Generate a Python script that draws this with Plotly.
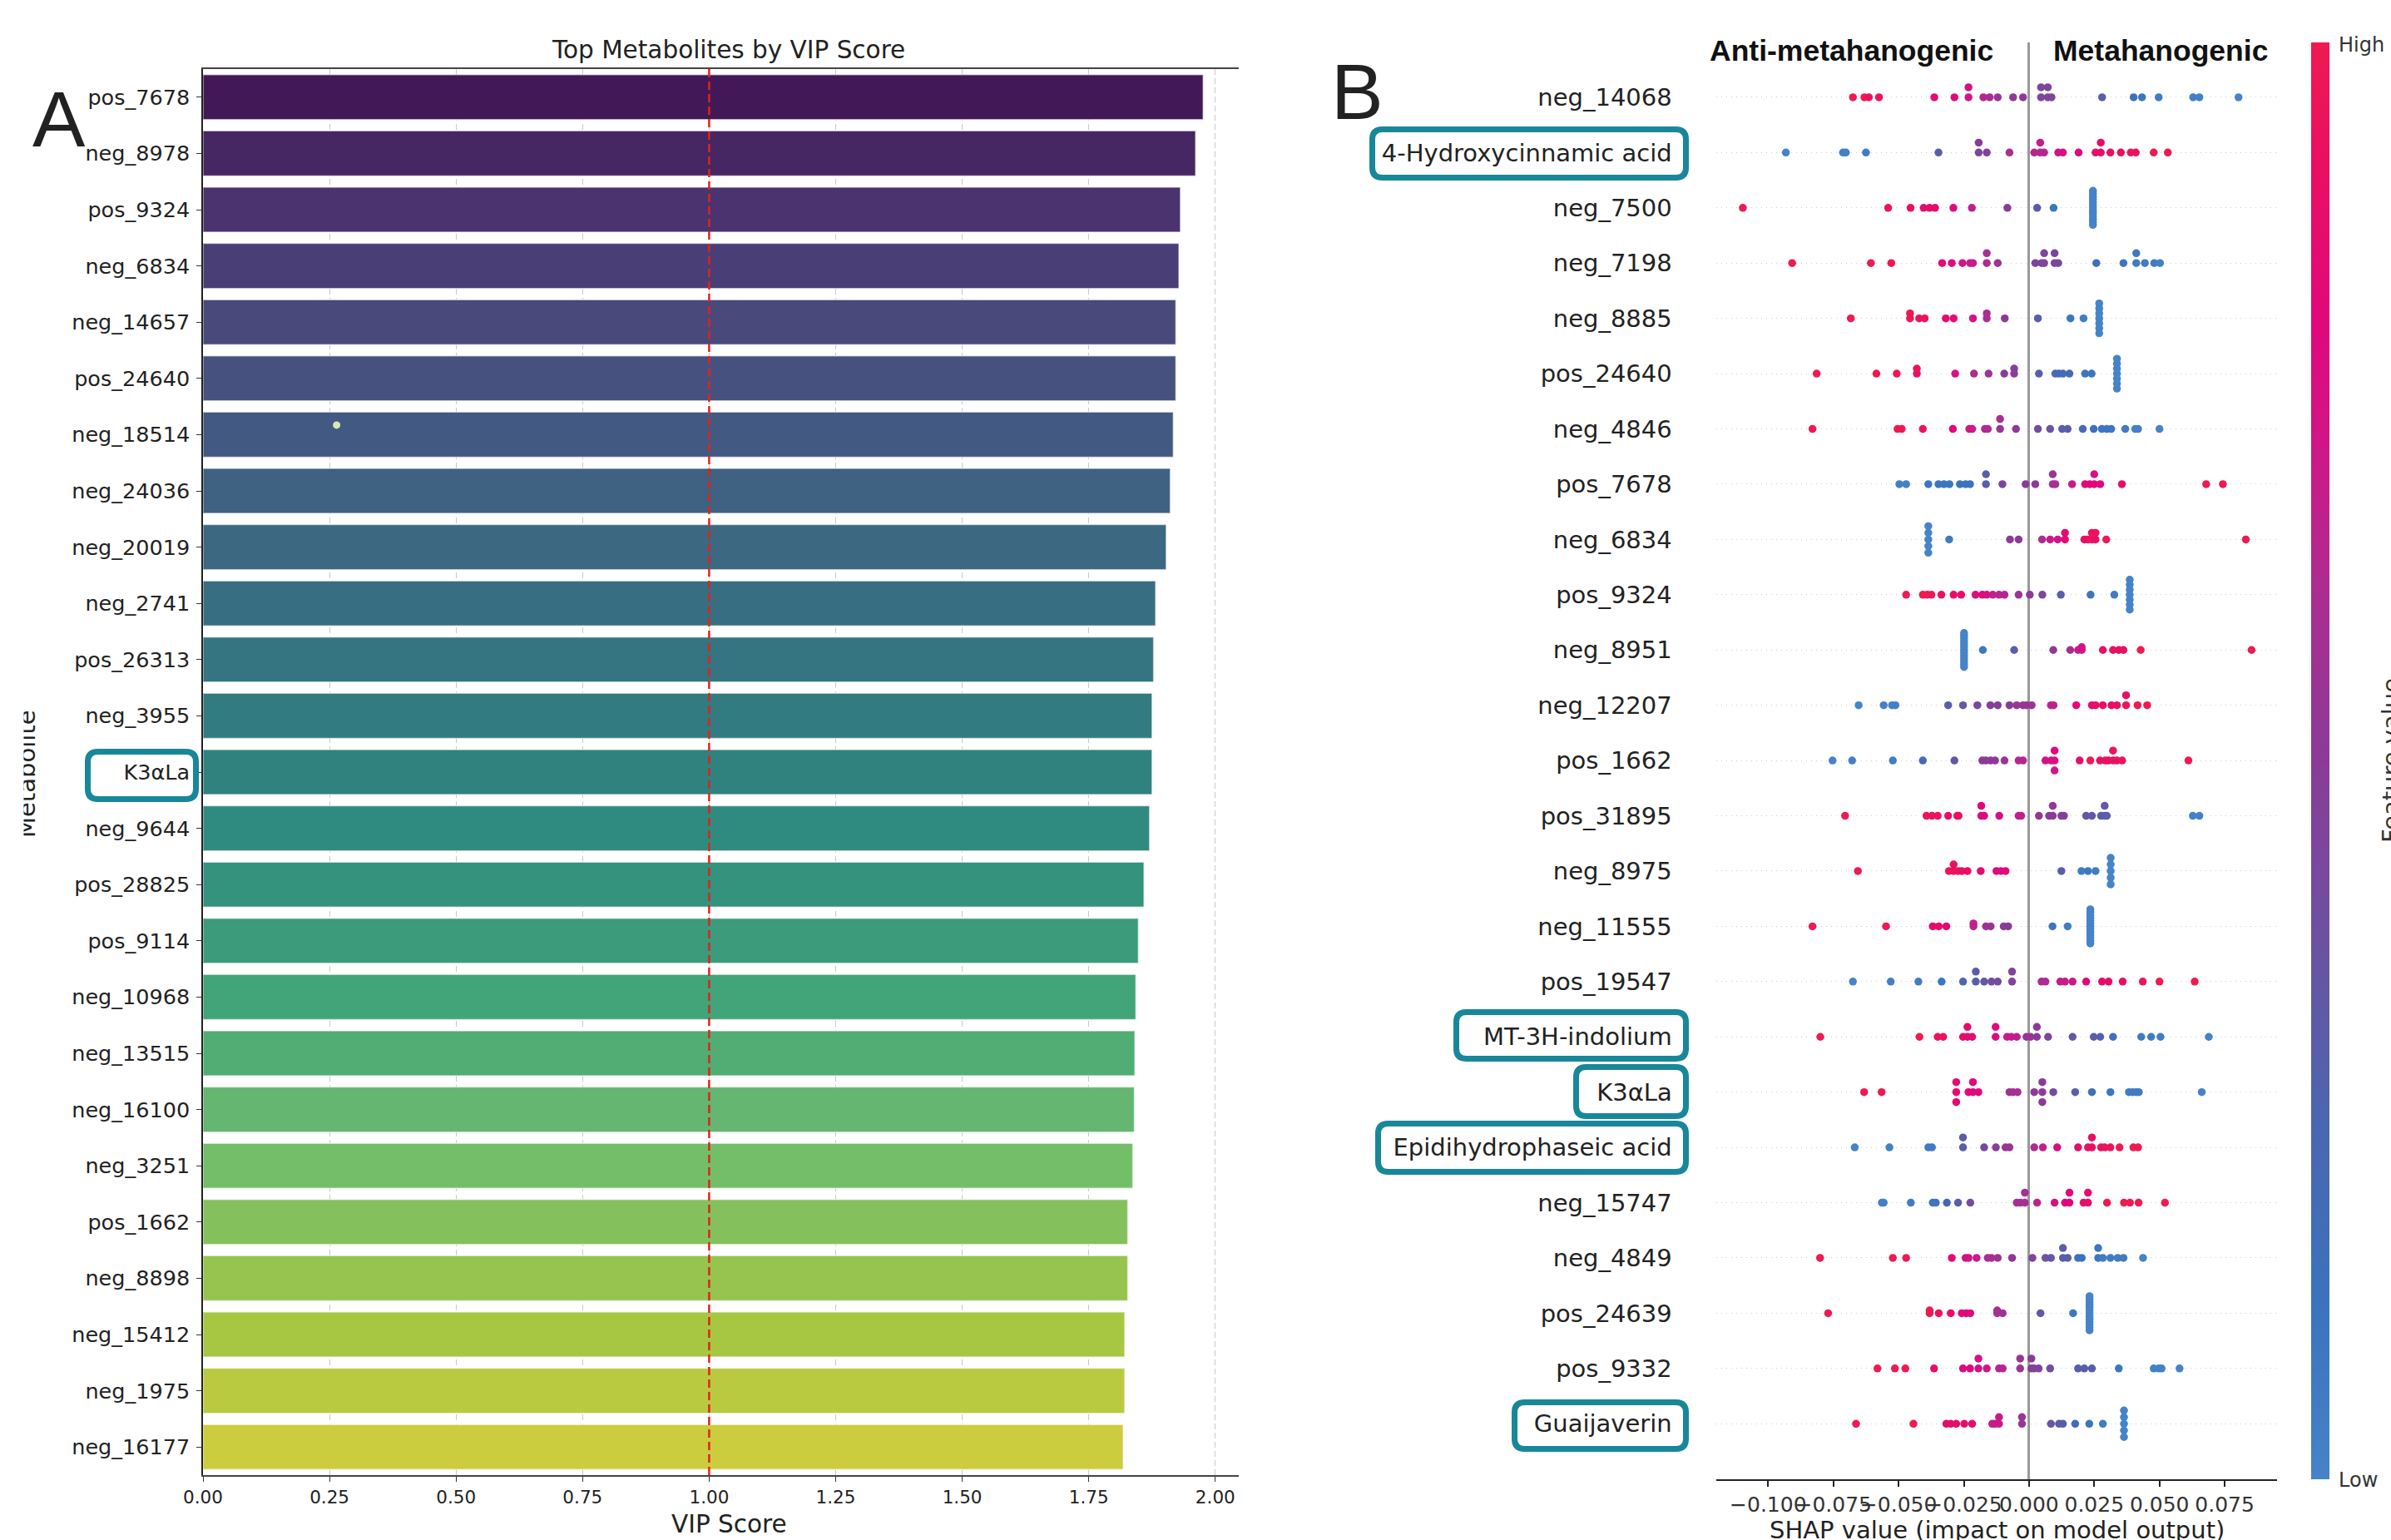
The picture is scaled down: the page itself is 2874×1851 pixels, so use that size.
import colorsys
import numpy as np
import plotly.graph_objects as go
from plotly.colors import sample_colorscale, unlabel_rgb
import plotly.colors as pc

W, H = 2874, 1851

# ---------------- Panel A data ----------------
vip_metabolites = ["pos_7678", "neg_8978", "pos_9324", "neg_6834", "neg_14657", "pos_24640",
                   "neg_18514", "neg_24036", "neg_20019", "neg_2741", "pos_26313", "neg_3955",
                   "K3αLa", "neg_9644", "pos_28825", "pos_9114", "neg_10968", "neg_13515",
                   "neg_16100", "neg_3251", "pos_1662", "neg_8898", "neg_15412", "neg_1975",
                   "neg_16177"]
vip_scores = [1.976, 1.961, 1.931, 1.928, 1.922, 1.922, 1.917, 1.911, 1.903, 1.882, 1.878, 1.875,
              1.875, 1.870, 1.859, 1.848, 1.843, 1.841, 1.840, 1.837, 1.827, 1.827, 1.821, 1.821,
              1.818]
vip_threshold = 1.0
vip_ticks = [0.0, 0.25, 0.5, 0.75, 1.0, 1.25, 1.5, 1.75, 2.0]
stray_point_x = [0.264]
stray_point_y = [5.83]

# ---------------- Panel B data (top to bottom) ----------------
shap_features = ["neg_14068", "4-Hydroxycinnamic acid", "neg_7500", "neg_7198", "neg_8885",
                 "pos_24640", "neg_4846", "pos_7678", "neg_6834", "pos_9324", "neg_8951",
                 "neg_12207", "pos_1662", "pos_31895", "neg_8975", "neg_11555", "pos_19547",
                 "MT-3H-indolium", "K3αLa", "Epidihydrophaseic acid", "neg_15747", "neg_4849",
                 "pos_24639", "pos_9332", "Guaijaverin"]
shap_ticks = [-0.1, -0.075, -0.05, -0.025, 0.0, 0.025, 0.05, 0.075]
shap_ticktext = ["−0.100", "−0.075", "−0.050", "−0.025", "0.000", "0.025", "0.050", "0.075"]

sv_neg_14068 = [-0.0675, -0.0631, -0.0614, -0.0575, -0.0363, -0.0286, -0.0232, -0.0232, -0.0175, -0.0151,
                -0.012, -0.0061, -0.0023, 0.0046, 0.0046, 0.0072, 0.0072, 0.0086, 0.028, 0.0401,
                0.0433, 0.0497, 0.0629, 0.0653, 0.0803]
fv_neg_14068 = [1.0, 1.0, 0.95, 0.95, 0.85, 0.78, 0.72, 0.75, 0.65, 0.6,
                0.55, 0.52, 0.5, 0.45, 0.45, 0.45, 0.45, 0.45, 0.3, 0.12,
                0.1, 0.05, 0.02, 0.02, 0.0]
sv_hydroxycinnamic = [-0.0932, -0.0713, -0.0702, -0.0625, -0.0347, -0.0193, -0.0193, -0.0162, -0.0075, 0.002,
                      0.0043, 0.0043, 0.0058, 0.0112, 0.013, 0.019, 0.0255, 0.0275, 0.0275, 0.0312,
                      0.0352, 0.039, 0.0409, 0.0478, 0.0532]
fv_hydroxycinnamic = [0.0, 0.02, 0.02, 0.05, 0.3, 0.45, 0.5, 0.45, 0.6, 0.65,
                      0.65, 0.7, 0.65, 0.75, 0.75, 0.8, 0.9, 0.9, 0.9, 0.9,
                      0.92, 0.95, 0.95, 1.0, 1.0]
sv_neg_7500 = [-0.1097, -0.054, -0.0454, -0.0404, -0.0381, -0.036, -0.029, -0.0219, -0.0083, 0.0031, 0.0094,
               0.0245, 0.0245, 0.0245, 0.0245, 0.0245, 0.0245, 0.0245, 0.0245, 0.0245, 0.0245, 0.0245,
               0.0245, 0.0245]
fv_neg_7500 = [1.0, 0.95, 0.92, 0.88, 0.88, 0.88, 0.78, 0.68, 0.5, 0.3, 0.1,
               0.0, 0.0, 0.0, 0.0, 0.0, 0.0, 0.0, 0.0, 0.0, 0.0, 0.0, 0.0, 0.0]
sv_neg_7198 = [-0.0908, -0.0606, -0.0528, -0.0333, -0.0296, -0.0255, -0.0226, -0.0215, -0.0162, -0.0162,
               -0.012, 0.0024, 0.0048, 0.0058, 0.0058, 0.0098, 0.0098, 0.0112, 0.0258, 0.0362,
               0.0411, 0.0411, 0.0444, 0.048, 0.0502]
fv_neg_7198 = [1.0, 1.0, 0.98, 0.85, 0.8, 0.72, 0.7, 0.7, 0.6, 0.6,
               0.55, 0.45, 0.45, 0.45, 0.45, 0.42, 0.45, 0.42, 0.15, 0.1,
               0.05, 0.08, 0.05, 0.05, 0.02]
sv_neg_8885 = [-0.0683, -0.0456, -0.0456, -0.0421, -0.04, -0.0319, -0.0289, -0.0215, -0.0162, -0.0162,
               -0.0093, 0.0034, 0.0159, 0.0209, 0.0269, 0.0269, 0.0269, 0.0269, 0.0269, 0.0269, 0.0269]
fv_neg_8885 = [1.0, 1.0, 0.98, 0.95, 0.95, 0.85, 0.85, 0.75, 0.6, 0.62,
               0.5, 0.3, 0.1, 0.05, 0.0, 0.0, 0.0, 0.0, 0.0, 0.0, 0.0]
sv_pos_24640 = [-0.0814, -0.0585, -0.0507, -0.043, -0.043, -0.0283, -0.0211, -0.0155, -0.0095, -0.0057,
                -0.0057, 0.0038, 0.0101, 0.0115, 0.013, 0.0155, 0.0215, 0.024,
                0.0337, 0.0337, 0.0337, 0.0337, 0.0337, 0.0337, 0.0337]
fv_pos_24640 = [1.0, 1.0, 0.98, 0.9, 0.95, 0.75, 0.62, 0.55, 0.5, 0.5,
                0.48, 0.3, 0.2, 0.2, 0.2, 0.2, 0.1, 0.1,
                0.0, 0.0, 0.0, 0.0, 0.0, 0.0, 0.0]
sv_neg_4846 = [-0.083, -0.0504, -0.0488, -0.0407, -0.0292, -0.0229, -0.0218, -0.0169, -0.0158, -0.0111,
               -0.0111, -0.005, 0.0034, 0.0081, 0.0127, 0.0148, 0.0206, 0.0248, 0.0279, 0.0298,
               0.0315, 0.0369, 0.0407, 0.0418, 0.05]
fv_neg_4846 = [1.0, 1.0, 0.98, 0.95, 0.8, 0.72, 0.72, 0.65, 0.62, 0.55,
               0.6, 0.5, 0.4, 0.35, 0.3, 0.3, 0.2, 0.15, 0.1, 0.1,
               0.1, 0.05, 0.02, 0.02, 0.0]
sv_pos_7678 = [-0.0497, -0.0471, -0.0386, -0.0347, -0.0326, -0.0305, -0.0265, -0.0243, -0.0226, -0.0165,
               -0.0165, -0.0102, -0.0013, 0.0024, 0.0091, 0.0091, 0.0101, 0.0165, 0.0215, 0.0233,
               0.025, 0.025, 0.0273, 0.0356, 0.0679, 0.0743]
fv_pos_7678 = [0.02, 0.02, 0.1, 0.1, 0.1, 0.1, 0.12, 0.12, 0.12, 0.3,
               0.3, 0.45, 0.5, 0.5, 0.6, 0.55, 0.6, 0.7, 0.8, 0.8,
               0.8, 0.75, 0.8, 0.9, 1.0, 1.0]
sv_neg_6834 = [-0.0386, -0.0386, -0.0386, -0.0386, -0.0386, -0.0306, -0.0073, -0.004, 0.005, 0.0081,
               0.011, 0.0138, 0.0138, 0.0212, 0.0226, 0.0241, 0.0241, 0.0255, 0.0255, 0.0296, 0.0831]
fv_neg_6834 = [0.0, 0.0, 0.0, 0.0, 0.0, 0.05, 0.5, 0.5, 0.62, 0.7,
               0.72, 0.85, 0.85, 0.92, 0.92, 0.95, 0.95, 0.92, 0.95, 1.0, 1.0]
sv_pos_9324 = [-0.0471, -0.0407, -0.039, -0.0374, -0.0336, -0.0289, -0.026, -0.0205, -0.0179, -0.0162,
               -0.0139, -0.0115, -0.0094, -0.004, 0.0003, 0.0051, 0.0122, 0.0236, 0.0327,
               0.0386, 0.0386, 0.0386, 0.0386, 0.0386, 0.0386, 0.0386]
fv_pos_9324 = [1.0, 1.0, 1.0, 0.98, 0.92, 0.9, 0.88, 0.78, 0.78, 0.75,
               0.68, 0.65, 0.65, 0.55, 0.5, 0.45, 0.3, 0.1, 0.05,
               0.0, 0.0, 0.0, 0.0, 0.0, 0.0, 0.0]
sv_neg_8951 = [-0.0249, -0.0249, -0.0249, -0.0249, -0.0249, -0.0249, -0.0249, -0.0249, -0.0249, -0.0249,
               -0.0249, -0.0249, -0.0249, -0.0177, -0.0057, 0.0093, 0.0158, 0.0188, 0.0202, 0.0202,
               0.0283, 0.0322, 0.0344, 0.0362, 0.0428, 0.0853]
fv_neg_8951 = [0.0, 0.0, 0.0, 0.0, 0.0, 0.0, 0.0, 0.0, 0.0, 0.0,
               0.0, 0.0, 0.0, 0.08, 0.3, 0.52, 0.6, 0.7, 0.72, 0.75,
               0.9, 0.92, 0.92, 0.92, 1.0, 1.0]
sv_neg_12207 = [-0.0653, -0.0557, -0.0525, -0.0512, -0.031, -0.0253, -0.0198, -0.0148, -0.012, -0.0075,
                -0.0047, -0.0023, -0.0009, 0.001, 0.0084, 0.0094, 0.0181, 0.0241, 0.0255, 0.0283,
                0.0316, 0.0337, 0.0372, 0.0372, 0.0416, 0.0453]
fv_neg_12207 = [0.0, 0.02, 0.02, 0.02, 0.3, 0.35, 0.42, 0.48, 0.48, 0.5,
                0.52, 0.55, 0.55, 0.55, 0.65, 0.65, 0.8, 0.88, 0.88, 0.9,
                0.9, 0.92, 0.95, 0.92, 1.0, 1.0]
sv_pos_1662 = [-0.0753, -0.0678, -0.0522, -0.0407, -0.0286, -0.0179, -0.0165, -0.0147, -0.013, -0.0094,
               -0.004, -0.0023, 0.0063, 0.0085, 0.0098, 0.0098, 0.0098, 0.0194, 0.0235, 0.0272,
               0.0293, 0.0305, 0.0322, 0.0322, 0.0337, 0.0357, 0.0611]
fv_pos_1662 = [0.0, 0.02, 0.05, 0.2, 0.35, 0.5, 0.5, 0.5, 0.5, 0.55,
               0.65, 0.65, 0.75, 0.75, 0.75, 0.8, 0.72, 0.9, 1.0, 0.92,
               0.92, 0.92, 0.95, 0.95, 0.92, 0.95, 1.0]
sv_pos_31895 = [-0.0705, -0.0393, -0.0372, -0.035, -0.031, -0.0275, -0.027, -0.0183, -0.0183, -0.0172,
                -0.0114, -0.004, -0.003, 0.0038, 0.0077, 0.0091, 0.0091, 0.0124, 0.0134, 0.0219,
                0.0241, 0.0276, 0.029, 0.029, 0.0298, 0.0628, 0.0653]
fv_pos_31895 = [1.0, 0.95, 0.95, 0.95, 0.9, 0.92, 0.92, 0.78, 0.8, 0.78,
                0.75, 0.68, 0.68, 0.55, 0.5, 0.5, 0.55, 0.48, 0.48, 0.35,
                0.35, 0.3, 0.3, 0.35, 0.3, 0.02, 0.02]
sv_neg_8975 = [-0.0656, -0.0307, -0.0289, -0.0289, -0.0272, -0.0258, -0.0236, -0.0185, -0.0125, -0.0108,
               -0.009, 0.0124, 0.0201, 0.0226, 0.0255, 0.0313, 0.0313, 0.0313, 0.0313, 0.0313]
fv_neg_8975 = [1.0, 0.95, 0.95, 0.92, 0.95, 0.92, 0.92, 0.85, 0.8, 0.78,
               0.8, 0.3, 0.05, 0.08, 0.05, 0.0, 0.0, 0.0, 0.0, 0.0]
sv_neg_11555 = [-0.083, -0.0548, -0.0369, -0.0346, -0.0317, -0.0213, -0.0213, -0.0165, -0.0147, -0.0097,
                -0.008, 0.009, 0.0148, 0.0235, 0.0235, 0.0235, 0.0235, 0.0235, 0.0235, 0.0235,
                0.0235, 0.0235, 0.0235, 0.0235, 0.0235, 0.0235]
fv_neg_11555 = [1.0, 1.0, 0.88, 0.88, 0.85, 0.65, 0.68, 0.55, 0.55, 0.5,
                0.5, 0.1, 0.05, 0.0, 0.0, 0.0, 0.0, 0.0, 0.0, 0.0,
                0.0, 0.0, 0.0, 0.0, 0.0, 0.0]
sv_pos_19547 = [-0.0675, -0.053, -0.0424, -0.0335, -0.0253, -0.0204, -0.0204, -0.0172, -0.0144, -0.012,
                -0.0065, -0.0065, 0.0048, 0.0063, 0.012, 0.0138, 0.0167, 0.0219, 0.028, 0.0305,
                0.0359, 0.0436, 0.05, 0.0635]
fv_pos_19547 = [0.0, 0.02, 0.05, 0.1, 0.25, 0.3, 0.3, 0.35, 0.4, 0.4,
                0.45, 0.45, 0.62, 0.62, 0.7, 0.7, 0.72, 0.8, 0.88, 0.88,
                0.9, 0.95, 1.0, 1.0]
sv_mt3h_indolium = [-0.08, -0.042, -0.035, -0.0329, -0.0253, -0.0236, -0.0236, -0.0218, -0.0128, -0.0128,
                    -0.0084, -0.0068, -0.0047, -0.001, 0.0006, 0.003, 0.003, 0.0073, 0.0167, 0.0248,
                    0.0273, 0.0322, 0.043, 0.0468, 0.0504, 0.0689]
fv_mt3h_indolium = [1.0, 1.0, 0.95, 0.95, 0.88, 0.85, 0.88, 0.85, 0.78, 0.78,
                    0.7, 0.7, 0.68, 0.55, 0.55, 0.5, 0.5, 0.45, 0.35, 0.3,
                    0.3, 0.15, 0.05, 0.05, 0.05, 0.0]
sv_k3ala = [-0.0632, -0.0565, -0.0279, -0.0279, -0.0279, -0.0232, -0.0215, -0.0215, -0.0194, -0.0075,
            -0.0061, -0.0044, 0.002, 0.0051, 0.0051, 0.0051, 0.0093, 0.0177, 0.0241, 0.0312,
            0.0383, 0.0397, 0.0411, 0.0421, 0.0662]
fv_k3ala = [1.0, 1.0, 0.88, 0.85, 0.85, 0.82, 0.8, 0.8, 0.8, 0.6,
            0.6, 0.6, 0.5, 0.5, 0.5, 0.5, 0.4, 0.3, 0.15, 0.1,
            0.05, 0.05, 0.05, 0.05, 0.0]
sv_epidihydrophaseic = [-0.0668, -0.0535, -0.0386, -0.0372, -0.0253, -0.0253, -0.0172, -0.0127, -0.009, -0.0075,
                        0.002, 0.0053, 0.0108, 0.0188, 0.0226, 0.0241, 0.0241, 0.0276, 0.029, 0.0312,
                        0.0347, 0.04, 0.0418]
fv_epidihydrophaseic = [0.0, 0.02, 0.05, 0.05, 0.3, 0.3, 0.42, 0.48, 0.55, 0.55,
                        0.62, 0.7, 0.78, 0.88, 0.92, 0.92, 0.9, 0.95, 0.95, 0.95,
                        1.0, 1.0, 1.0]
sv_neg_15747 = [-0.0564, -0.0557, -0.0453, -0.0369, -0.0357, -0.0315, -0.0272, -0.0225, -0.0047, -0.0033,
                -0.0016, -0.0016, 0.0031, 0.0098, 0.0138, 0.0155, 0.0155, 0.0209, 0.0226, 0.0226,
                0.0299, 0.0364, 0.0387, 0.042, 0.0521]
fv_neg_15747 = [0.02, 0.02, 0.05, 0.1, 0.1, 0.25, 0.3, 0.4, 0.6, 0.6,
                0.6, 0.6, 0.65, 0.75, 0.8, 0.8, 0.8, 0.88, 0.88, 0.88,
                1.0, 1.0, 1.0, 1.0, 1.0]
sv_neg_4849 = [-0.0801, -0.0522, -0.0471, -0.0296, -0.0243, -0.0232, -0.0201, -0.0158, -0.0144, -0.012,
               -0.0065, 0.0013, 0.0063, 0.0084, 0.013, 0.013, 0.0148, 0.0188, 0.0202, 0.0265,
               0.0265, 0.0283, 0.0312, 0.034, 0.0362, 0.0437]
fv_neg_4849 = [1.0, 1.0, 1.0, 0.85, 0.75, 0.75, 0.7, 0.62, 0.62, 0.55,
               0.5, 0.45, 0.35, 0.35, 0.3, 0.3, 0.3, 0.12, 0.12, 0.1,
               0.1, 0.05, 0.05, 0.05, 0.05, 0.0]
sv_pos_24639 = [-0.077, -0.0381, -0.0381, -0.0346, -0.03, -0.0258, -0.0241, -0.0225, -0.0122, -0.0122,
                -0.0101, 0.0044, 0.0169, 0.0232, 0.0232, 0.0232, 0.0232, 0.0232, 0.0232, 0.0232,
                0.0232, 0.0232, 0.0232, 0.0232, 0.0232, 0.0232]
fv_pos_24639 = [1.0, 1.0, 1.0, 0.95, 0.88, 0.82, 0.82, 0.82, 0.6, 0.6,
                0.55, 0.35, 0.1, 0.0, 0.0, 0.0, 0.0, 0.0, 0.0, 0.0,
                0.0, 0.0, 0.0, 0.0, 0.0, 0.0]
sv_pos_9332 = [-0.0581, -0.0514, -0.0474, -0.0364, -0.0253, -0.0226, -0.0194, -0.0194, -0.0162, -0.0115,
               -0.0101, -0.0034, -0.0034, 0.0009, 0.0009, 0.002, 0.0037, 0.0081, 0.0188, 0.0212,
               0.0241, 0.0344, 0.0478, 0.0497, 0.0508, 0.0577]
fv_pos_9332 = [1.0, 1.0, 1.0, 0.9, 0.8, 0.8, 0.75, 0.75, 0.72, 0.65,
               0.65, 0.55, 0.55, 0.5, 0.5, 0.45, 0.45, 0.4, 0.3, 0.3,
               0.3, 0.1, 0.02, 0.02, 0.02, 0.0]
sv_guaijaverin = [-0.0663, -0.0443, -0.0317, -0.03, -0.0279, -0.0248, -0.0218, -0.0141, -0.013, -0.0115,
                  -0.0115, -0.0027, -0.0027, 0.0084, 0.0115, 0.013, 0.0177, 0.0231, 0.0283,
                  0.0364, 0.0364, 0.0364, 0.0364, 0.0364]
fv_guaijaverin = [1.0, 1.0, 0.88, 0.88, 0.88, 0.88, 0.85, 0.7, 0.7, 0.7,
                  0.7, 0.55, 0.55, 0.35, 0.3, 0.3, 0.2, 0.1, 0.05,
                  0.0, 0.0, 0.0, 0.0, 0.0]

shap_rows = [(sv_neg_14068, fv_neg_14068), (sv_hydroxycinnamic, fv_hydroxycinnamic),
             (sv_neg_7500, fv_neg_7500), (sv_neg_7198, fv_neg_7198), (sv_neg_8885, fv_neg_8885),
             (sv_pos_24640, fv_pos_24640), (sv_neg_4846, fv_neg_4846), (sv_pos_7678, fv_pos_7678),
             (sv_neg_6834, fv_neg_6834), (sv_pos_9324, fv_pos_9324), (sv_neg_8951, fv_neg_8951),
             (sv_neg_12207, fv_neg_12207), (sv_pos_1662, fv_pos_1662), (sv_pos_31895, fv_pos_31895),
             (sv_neg_8975, fv_neg_8975), (sv_neg_11555, fv_neg_11555), (sv_pos_19547, fv_pos_19547),
             (sv_mt3h_indolium, fv_mt3h_indolium), (sv_k3ala, fv_k3ala),
             (sv_epidihydrophaseic, fv_epidihydrophaseic), (sv_neg_15747, fv_neg_15747),
             (sv_neg_4849, fv_neg_4849), (sv_pos_24639, fv_pos_24639), (sv_pos_9332, fv_pos_9332),
             (sv_guaijaverin, fv_guaijaverin)]


# ---------------- helpers ----------------
def px(x):
    return x / W


def py(y):
    return 1 - y / H


def desaturate(rgb, prop):
    h, l, s = colorsys.rgb_to_hls(*rgb)
    return colorsys.hls_to_rgb(h, l, s * prop)


def swarm_offsets(vals, row_height=0.4):
    """shap-style beeswarm: identical values are stacked alternately up/down."""
    vals = np.asarray(vals, dtype=float)
    ys = np.zeros(len(vals))
    order = np.argsort(vals, kind="stable")
    layer, last = 0, None
    for i in order:
        if last is None or vals[i] != last:
            layer = 0
        ys[i] = np.ceil(layer / 2) * ((layer % 2) * 2 - 1)
        layer += 1
        last = vals[i]
    ys *= 0.9 * (row_height / np.max(ys + 1))
    return ys


def rrect_path(x0, y0, x1, y1, r):
    pts = [("M", [(x0 + r, y0)]), ("L", [(x1 - r, y0)]), ("Q", [(x1, y0), (x1, y0 + r)]),
           ("L", [(x1, y1 - r)]), ("Q", [(x1, y1), (x1 - r, y1)]), ("L", [(x0 + r, y1)]),
           ("Q", [(x0, y1), (x0, y1 - r)]), ("L", [(x0, y0 + r)]), ("Q", [(x0, y0), (x0 + r, y0)])]
    s = ""
    for cmd, ps in pts:
        s += cmd + " " + " ".join(f"{px(a):.6f},{py(b):.6f}" for a, b in ps) + " "
    return s + "Z"


# ---------------- colours ----------------
n_bars = len(vip_scores)
bins = np.linspace(0, 1, n_bars + 2)[1:-1]
vir = sample_colorscale(pc.sequential.Viridis, list(bins))
bar_colors = []
for c in vir:
    r, g, b = [v / 255 for v in unlabel_rgb(c)]
    r, g, b = desaturate((r, g, b), 0.75)
    bar_colors.append(f"rgb({r*255:.0f},{g*255:.0f},{b*255:.0f})")

SHAP_SCALE = [[0.0, "#4683c8"], [0.12, "#3b73bd"], [0.25, "#4b66b0"], [0.35, "#6656a3"],
              [0.5, "#8b3b97"], [0.62, "#ad2c91"], [0.72, "#cf1787"], [0.8, "#e0087c"],
              [0.9, "#e80e66"], [1.0, "#ee1a52"]]
TEAL = "#19879a"

fig = go.Figure()

# ---------------- Panel A ----------------
fig.add_trace(go.Bar(
    x=vip_scores, y=list(range(n_bars)), orientation="h", width=0.8,
    marker=dict(color=bar_colors, line=dict(color="rgba(255,255,255,0.55)", width=1.5)),
    xaxis="x", yaxis="y", showlegend=False, hoverinfo="skip"))
fig.add_trace(go.Scatter(
    x=stray_point_x, y=stray_point_y, mode="markers",
    marker=dict(size=9, color="#dbe7b3"), xaxis="x", yaxis="y", showlegend=False, hoverinfo="skip"))

# ---------------- Panel B ----------------
n_rows = len(shap_features)
all_x, all_y, all_c = [], [], []
for i, (sv, fv) in enumerate(shap_rows):
    pos = n_rows - 1 - i
    offs = swarm_offsets(sv)
    all_x += list(sv)
    all_y += list(pos + offs)
    all_c += list(fv)

fig.add_trace(go.Scatter(
    x=all_x, y=all_y, mode="markers", xaxis="x2", yaxis="y2", showlegend=False, hoverinfo="skip",
    marker=dict(size=9.5, color=all_c, colorscale=SHAP_SCALE, cmin=0, cmax=1, line=dict(width=0),
                showscale=True,
                colorbar=dict(thickness=22, thicknessmode="pixels",
                              len=(1777.7 - 50.5) / H, lenmode="fraction",
                              x=px(2778), xanchor="left", y=py((50.5 + 1777.7) / 2), yanchor="middle",
                              outlinewidth=0, showticklabels=False, ticks="", xpad=0, ypad=0))))

ax_a_left, ax_a_right, unit_a = 244.0, 1489.0, 608.4
ax_b_left, ax_b_right = 2062.7, 2736.8
zero_b, unit_b = 2438.9, 3136.0

layout = dict(
    width=W, height=H, margin=dict(l=0, r=0, t=0, b=0, autoexpand=False),
    paper_bgcolor="white", plot_bgcolor="white",
    font=dict(family="DejaVu Sans", color="#222222"),
    bargap=0.2,
    xaxis=dict(domain=[px(ax_a_left), px(ax_a_right)], range=[0, (ax_a_right - ax_a_left) / unit_a],
               anchor="y", automargin=False, tickangle=0,
               tickvals=vip_ticks, ticktext=[f"{v:.2f}" for v in vip_ticks],
               tickfont=dict(size=21.5, color="#222"), ticks="outside", ticklen=6, tickcolor="#333",
               showgrid=True, gridcolor="#c9c9c9", griddash="7px,4px", gridwidth=1,
               layer="above traces", showline=True, mirror=True, linecolor="#444", linewidth=2,
               zeroline=False),
    yaxis=dict(domain=[py(1773), py(83)], range=[n_bars - 0.5, -0.5], anchor="x", automargin=False,
               tickvals=list(range(n_bars)), ticktext=vip_metabolites,
               tickfont=dict(size=25.5, color="#222"), ticks="outside", ticklen=6, tickcolor="#333",
               ticklabelstandoff=3, showgrid=False, showline=True, linecolor="#222", linewidth=1.5,
               zeroline=False),
    xaxis2=dict(domain=[px(ax_b_left), px(ax_b_right)],
                range=[(ax_b_left - zero_b) / unit_b, (ax_b_right - zero_b) / unit_b],
                anchor="y2", automargin=False, tickangle=0,
                tickvals=shap_ticks, ticktext=shap_ticktext,
                tickfont=dict(size=25, color="#333"), ticks="outside", ticklen=7, tickwidth=1.5,
                tickcolor="#222", showline=True, linecolor="#222", linewidth=2.2, showgrid=False,
                zeroline=True, zerolinecolor="#999999", zerolinewidth=2.5),
    yaxis2=dict(domain=[py(1777.7), py(50.5)], range=[-1, n_rows], anchor="x2", automargin=False,
                tickvals=list(range(n_rows)), ticktext=list(reversed(shap_features)),
                tickfont=dict(size=29, color="#222"), ticks="", ticklabelstandoff=52,
                showgrid=True, gridcolor="#cccccc", griddash="1px,5px", gridwidth=1,
                showline=False, zeroline=False),
)
fig.update_layout(**layout)

shapes = [dict(type="line", xref="x", yref="y domain", x0=vip_threshold, x1=vip_threshold, y0=0, y1=1,
               line=dict(color="#e3211c", width=2.5, dash="10px,5px"), layer="above")]
boxes = [(102, 900, 239, 964), (1646, 152, 2030, 217), (1747, 1213, 2030, 1276),
         (1891, 1279, 2030, 1345), (1653, 1347, 2030, 1412), (1817, 1682, 2030, 1745)]
for (x0, y0, x1, y1) in boxes:
    shapes.append(dict(type="path", xref="paper", yref="paper",
                       path=rrect_path(x0 + 3.5, y0 + 3.5, x1 - 3.5, y1 - 3.5, 12),
                       line=dict(color=TEAL, width=7), fillcolor="rgba(0,0,0,0)", layer="above"))
fig.update_layout(shapes=shapes)

ann = []


def add_text(text, x, y, size, family="DejaVu Sans", color="#222", xanchor="center",
             yanchor="middle", angle=0, bold=False):
    ann.append(dict(text=f"<b>{text}</b>" if bold else text, x=px(x), y=py(y), xref="paper",
                    yref="paper", showarrow=False, xanchor=xanchor, yanchor=yanchor,
                    textangle=angle, font=dict(size=size, family=family, color=color)))


add_text("Top Metabolites by VIP Score", 875, 60, 29.5)
add_text("VIP Score", 876, 1832, 29.5)
add_text("Metabolite", 32, 931, 29, angle=-90)
ann.append(dict(text=" ", x=0, y=py(931), xref="paper", yref="paper", showarrow=False,
                xanchor="left", yanchor="middle", width=27, height=260, bgcolor="white",
                borderpad=0, font=dict(size=10)))
add_text("A", 70.5, 143, 95, family="Liberation Sans")
add_text("B", 1631, 110, 94, family="Liberation Sans")
add_text("Anti-metahanogenic", 2225, 61, 35.5, family="Liberation Sans", bold=True, color="#111")
add_text("Metahanogenic", 2597, 61, 35.5, family="Liberation Sans", bold=True, color="#111")
add_text("SHAP value (impact on model output)", 2400, 1839, 29, color="#222")
add_text("High", 2809, 54, 24, xanchor="left", color="#333")
add_text("Low", 2809, 1779, 24, xanchor="left", color="#333")
add_text("Feature value", 2874, 914, 29, angle=-90, color="#333")
fig.update_layout(annotations=ann)

fig.write_html("out.html", include_plotlyjs=True, config={"displayModeBar": False},
               post_script="document.body.style.margin='0px';document.body.style.overflow='hidden';")
